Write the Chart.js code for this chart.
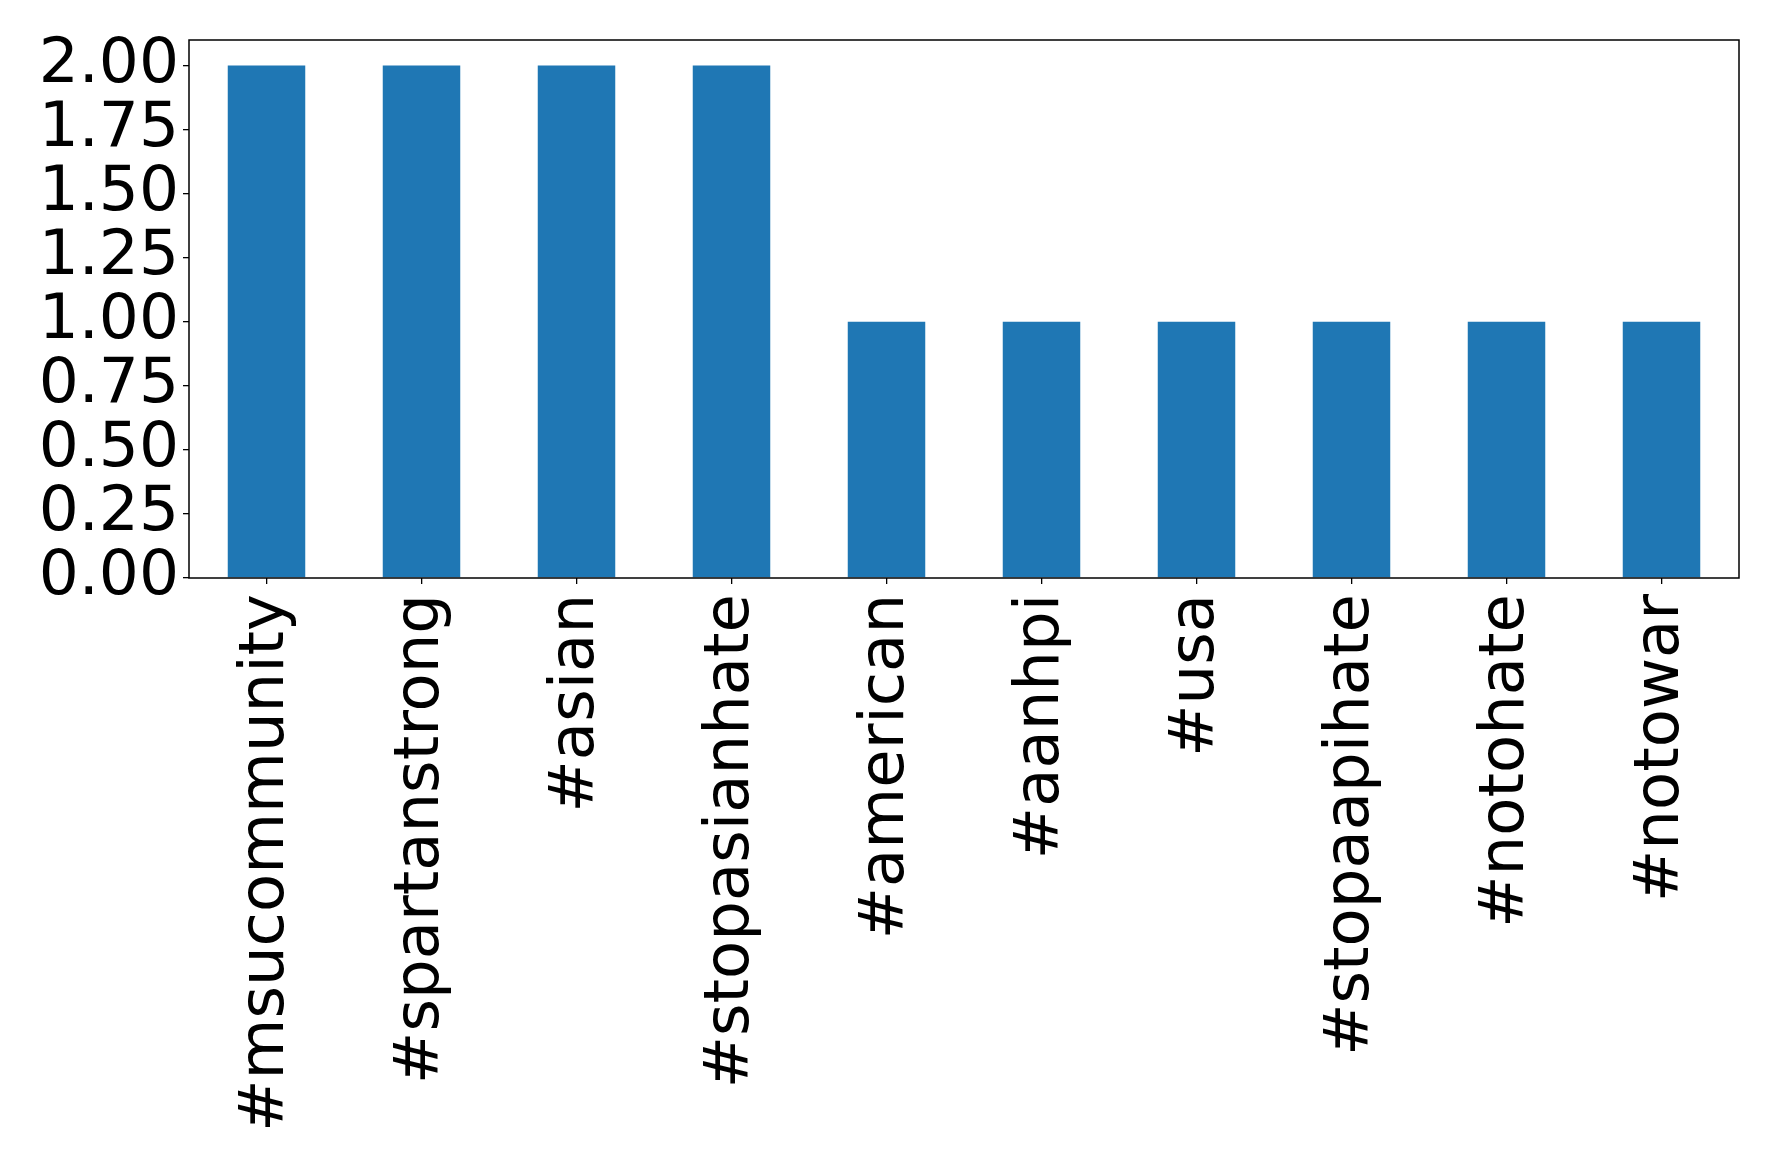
<!DOCTYPE html>
<html><head><meta charset="utf-8">
<script src="https://cdn.jsdelivr.net/npm/chart.js@4/dist/chart.umd.min.js"></script>
<style>html,body{margin:0;padding:0;background:#fff;}canvas{display:block;}</style>
</head><body>
<canvas id="c" width="1778" height="1165"></canvas>
<script>
const categories = ['#msucommunity','#spartanstrong','#asian','#stopasianhate','#american','#aanhpi','#usa','#stopaapihate','#notohate','#notowar'];
const counts = [2,2,2,2,1,1,1,1,1,1];
const yTicks = [0,0.25,0.5,0.75,1,1.25,1.5,1.75,2];

const frame = {
  id:'frame',
  afterDraw(chart){
    const {ctx, chartArea:a} = chart;
    ctx.save();
    ctx.strokeStyle='#000';
    ctx.lineWidth=1.5;
    ctx.strokeRect(a.left, a.top, a.right-a.left, a.bottom-a.top);
    ctx.restore();
  }
};

new Chart(document.getElementById('c'), {
  type:'bar',
  data:{labels:categories, datasets:[{data:counts, backgroundColor:'#1f77b4', barPercentage:0.5, categoryPercentage:1}]},
  options:{
    responsive:false, animation:false, devicePixelRatio:1,
    layout:{padding:{left:0,right:39,top:40,bottom:0}},
    plugins:{legend:{display:false}, tooltip:{enabled:false}},
    scales:{
      x:{
        offset:true,
        grid:{display:true, offset:false, drawOnChartArea:false, tickLength:6, tickColor:'#000', lineWidth:1.3},
        border:{display:false},
        ticks:{color:'#000', font:{family:'DejaVu Sans', size:62.5}, minRotation:90, maxRotation:90, padding:10, autoSkip:false},
        afterFit(s){ s.height = 1165-578; s.paddingLeft = 0; s.paddingRight = 0; }
      },
      y:{
        min:0, max:2.1,
        afterBuildTicks(s){ s.ticks = yTicks.map(v=>({value:v})); },
        grid:{display:true, drawOnChartArea:false, tickLength:6, tickColor:'#000', lineWidth:1.3},
        border:{display:false},
        ticks:{color:'#000', font:{family:'DejaVu Sans', size:63}, padding:4, autoSkip:false, callback:v=>Number(v).toFixed(2)},
        afterFit(s){ s.width = 189; s.paddingTop = 0; s.paddingBottom = 0; }
      }
    }
  },
  plugins:[frame]
});
</script>
</body></html>
